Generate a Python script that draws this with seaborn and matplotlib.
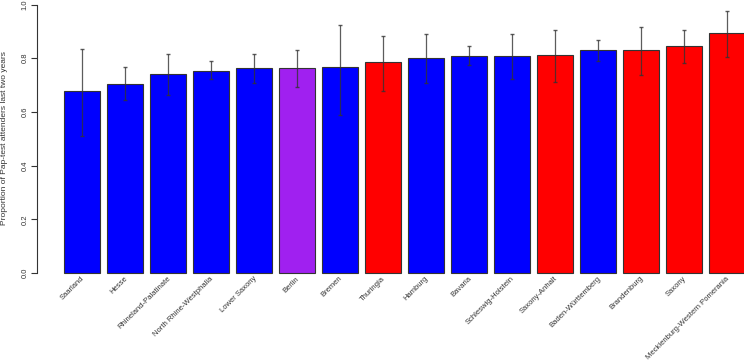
import matplotlib
matplotlib.use('Agg')
import matplotlib.pyplot as plt
import matplotlib.transforms as mtransforms
import seaborn as sns
import pandas as pd

# --- Data ---
states = ['Saarland', 'Hesse', 'Rhineland-Palatinate', 'North Rhine-Westphalia',
          'Lower Saxony', 'Berlin', 'Bremen', 'Thuringia', 'Hamburg', 'Bavaria',
          'Schleswig-Holstein', 'Saxony-Anhalt', 'Baden-Württemberg',
          'Brandenburg', 'Saxony', 'Mecklenburg-Western Pomerania']
region = ['West', 'West', 'West', 'West', 'West', 'Berlin', 'West', 'East',
          'West', 'West', 'West', 'East', 'West', 'East', 'East', 'East']
proportion = [0.678, 0.704, 0.741, 0.752, 0.762, 0.765, 0.767, 0.786,
              0.802, 0.807, 0.809, 0.812, 0.829, 0.832, 0.844, 0.893]
ci_low = [0.511, 0.644, 0.664, 0.721, 0.706, 0.694, 0.587, 0.679,
          0.706, 0.773, 0.723, 0.710, 0.790, 0.739, 0.782, 0.803]
ci_high = [0.833, 0.766, 0.815, 0.788, 0.815, 0.832, 0.924, 0.882,
           0.889, 0.844, 0.889, 0.905, 0.868, 0.915, 0.905, 0.977]
yticks = [0.0, 0.2, 0.4, 0.6, 0.8, 1.0]

palette = {'West': '#0000FF', 'East': '#FF0000', 'Berlin': '#A020F0'}

df = pd.DataFrame({'State': states, 'Region': region, 'Proportion': proportion,
                   'Low': ci_low, 'High': ci_high})

# --- Style ---
sns.set_theme(style='white')
plt.rcParams['font.family'] = ['Liberation Sans', 'DejaVu Sans']

fig = plt.figure(figsize=(7.44, 3.61), dpi=100)
ax = fig.add_axes([0.0497, 0.2349, 0.9503, 0.7651])

sns.barplot(data=df, x='State', y='Proportion', hue='Region', palette=palette,
            dodge=False, width=0.833, saturation=1, edgecolor='#333333',
            linewidth=0.8, legend=False, errorbar=None, ax=ax)

# confidence intervals
xpos = list(range(len(states)))
ax.errorbar(xpos, df['Proportion'],
            yerr=[df['Proportion'] - df['Low'], df['High'] - df['Proportion']],
            fmt='none', ecolor='#333333', elinewidth=0.9, capsize=1.7,
            capthick=1.0, alpha=0.8)

# --- Axes ---
ax.set_xlim(-1.047, 15.395)
ax.set_ylim(-0.012, 1.017)
ax.set_yticks(yticks)
ax.set_yticklabels([f'{t:.1f}' for t in yticks], rotation=90, va='center',
                   fontsize=5.5, color='#333333')
ax.tick_params(axis='y', left=True, length=4, width=0.8, color='#333333', pad=2)
ax.tick_params(axis='x', bottom=False, pad=0)
ax.set_xticks(xpos)
ax.set_xticklabels(states, rotation=45, ha='right', va='center',
                   rotation_mode='anchor', fontsize=5.5, color='#333333')
# nudge the rotated labels up so they sit right under the bars
shift = mtransforms.ScaledTranslation(1 / 72, 5 / 72, fig.dpi_scale_trans)
for lab in ax.get_xticklabels():
    lab.set_transform(lab.get_transform() + shift)
ax.set_xlabel('')
ax.set_ylabel('Proportion of Pap-test attenders last two years', fontsize=6,
              color='#333333')
ax.yaxis.set_label_coords(-0.041, 0.5)
for side in ['top', 'right', 'bottom']:
    ax.spines[side].set_visible(False)
ax.spines['left'].set_bounds(0, 1)
ax.spines['left'].set_color('#333333')
ax.spines['left'].set_linewidth(0.8)

fig.savefig('out.png', dpi=100)
